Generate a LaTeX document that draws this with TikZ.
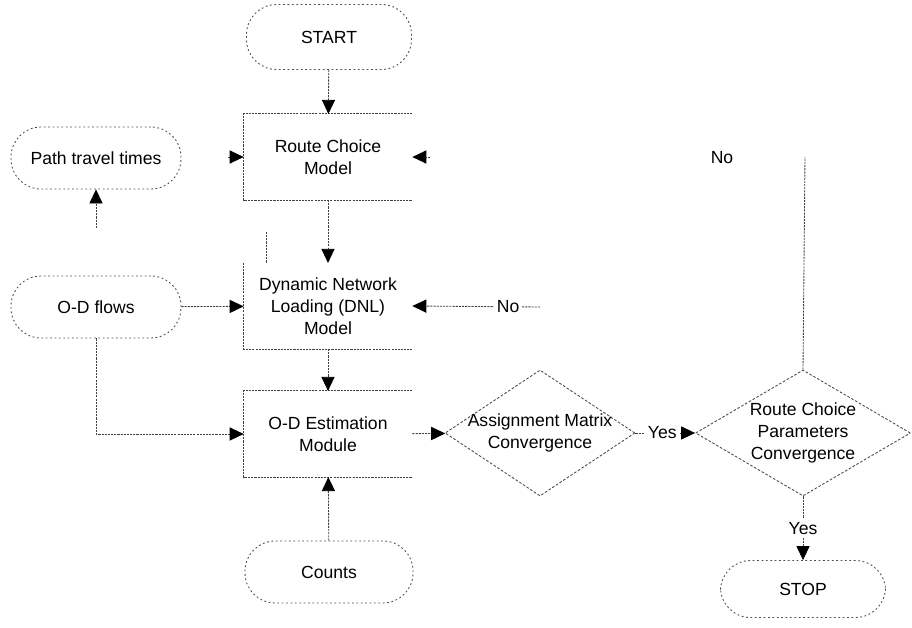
\documentclass[tikz,border=0pt]{standalone}
\usepackage{fontspec}
\setmainfont{Liberation Sans}
\usetikzlibrary{arrows.meta,shapes.geometric}

\tikzset{
  flowline/.style={black!75, line width=0.5pt, dash pattern=on 1.2pt off 0.6pt},
  flow/.style={flowline, -{Triangle[length=8pt,width=7.5pt,color=black,fill=black]}},
  terminal/.style={draw=black!70, line width=0.5pt, dash pattern=on 1pt off 1.5pt,
    rounded corners=0.6cm, minimum width=3.3cm, minimum height=1.3cm, align=center},
  process/.style={rectangle, minimum width=3.36cm, minimum height=1.71cm, align=center},
  decision/.style={diamond, draw=black!70, line width=0.5pt, dash pattern=on 1.5pt off 1pt,
    inner sep=0pt, minimum height=2.52cm},
  lbl/.style={fill=white, text=black, inner sep=1.5pt},
}

\begin{document}
\begin{tikzpicture}[x=0.02cm, y=-0.02cm, font=\fontsize{10}{12.5}\selectfont]
		\useasboundingbox (0,0) rectangle (912,628);

		% Define nodes
		\node[terminal] (S) at (329,37) {START};
		\node[process] (RCM) at (328,157) {Route Choice\\Model};
		\node[process] (DNL) at (328,306) {Dynamic Network\\Loading (DNL)\\Model};
		\node[process] (ODE) at (328,434) {O-D Estimation\\Module};
		\node[terminal, minimum width=3.4cm, minimum height=1.24cm] (PTT) at (96,158) {Path travel times};
		\node[terminal, minimum width=3.4cm, minimum height=1.24cm] (ODF) at (96,307) {O-D flows};
		\node[terminal, minimum width=3.36cm, minimum height=1.24cm] (CNT) at (329,572) {Counts};
		\node[decision, minimum width=3.8cm, label={[align=center]center:Assignment Matrix\\Convergence}] (AMC) at (540,433) {};
		\node[decision, minimum width=4.3cm, label={[align=center]center:Route Choice\\Parameters\\Convergence}] (RCP) at (803,433) {};
		\node[terminal, minimum height=1.14cm] (E) at (803,589) {STOP};

		% Box sides that show
		\draw[flowline] (RCM.north east) -- (RCM.north west) -- (RCM.south west) -- (RCM.south east);
		\draw[flowline] (DNL.north west) -- (DNL.south west) -- (DNL.south east);
		\draw[flowline] (ODE.north east) -- (ODE.north west) -- (ODE.south west) -- (ODE.south east);

		% Free ends
		\coordinate (ptt-in) at (96,228);
		\coordinate (rcm-l) at (228,157);
		\coordinate (rcm-r) at (430,157);
		\coordinate (rcp-up) at (805,157);
		\coordinate (amc-up) at (540,307);
		\coordinate (dnl-a) at (266,232);
		\coordinate (dnl-b) at (266,263);

		% Connect the nodes
		\draw[flow] (S) -- (RCM);
		\draw[flow] (RCM) -- (DNL);
		\draw[flow] (DNL) -- (ODE);
		\draw[flow] (CNT) -- (ODE);
		\draw[flow] (ODF) -- (DNL);
		\draw[flow] (ODF.south) |- (ODE.west);
		\draw[flow] (ptt-in) -- (PTT);
		\draw[flow] (rcm-l) -- (RCM.west);
		\draw[flow] (rcm-r) -- (RCM.east);
		\draw[flowline] (dnl-a) -- (dnl-b);
		\draw[flow] (ODE) -- (AMC);
		\draw[flow] (AMC.east) -- node[lbl, pos=0.45] {Yes} (RCP.west);
		\draw[flow] (RCP.south) -- node[lbl] {Yes} (E.north);
		\draw[flowline] (RCP.north) -- (rcp-up);
		\node (No1) at (722,158) {No};
		\draw[flow] (amc-up) -- node[lbl, pos=0.25] {No} (DNL.east);
	\end{tikzpicture}
\end{document}
